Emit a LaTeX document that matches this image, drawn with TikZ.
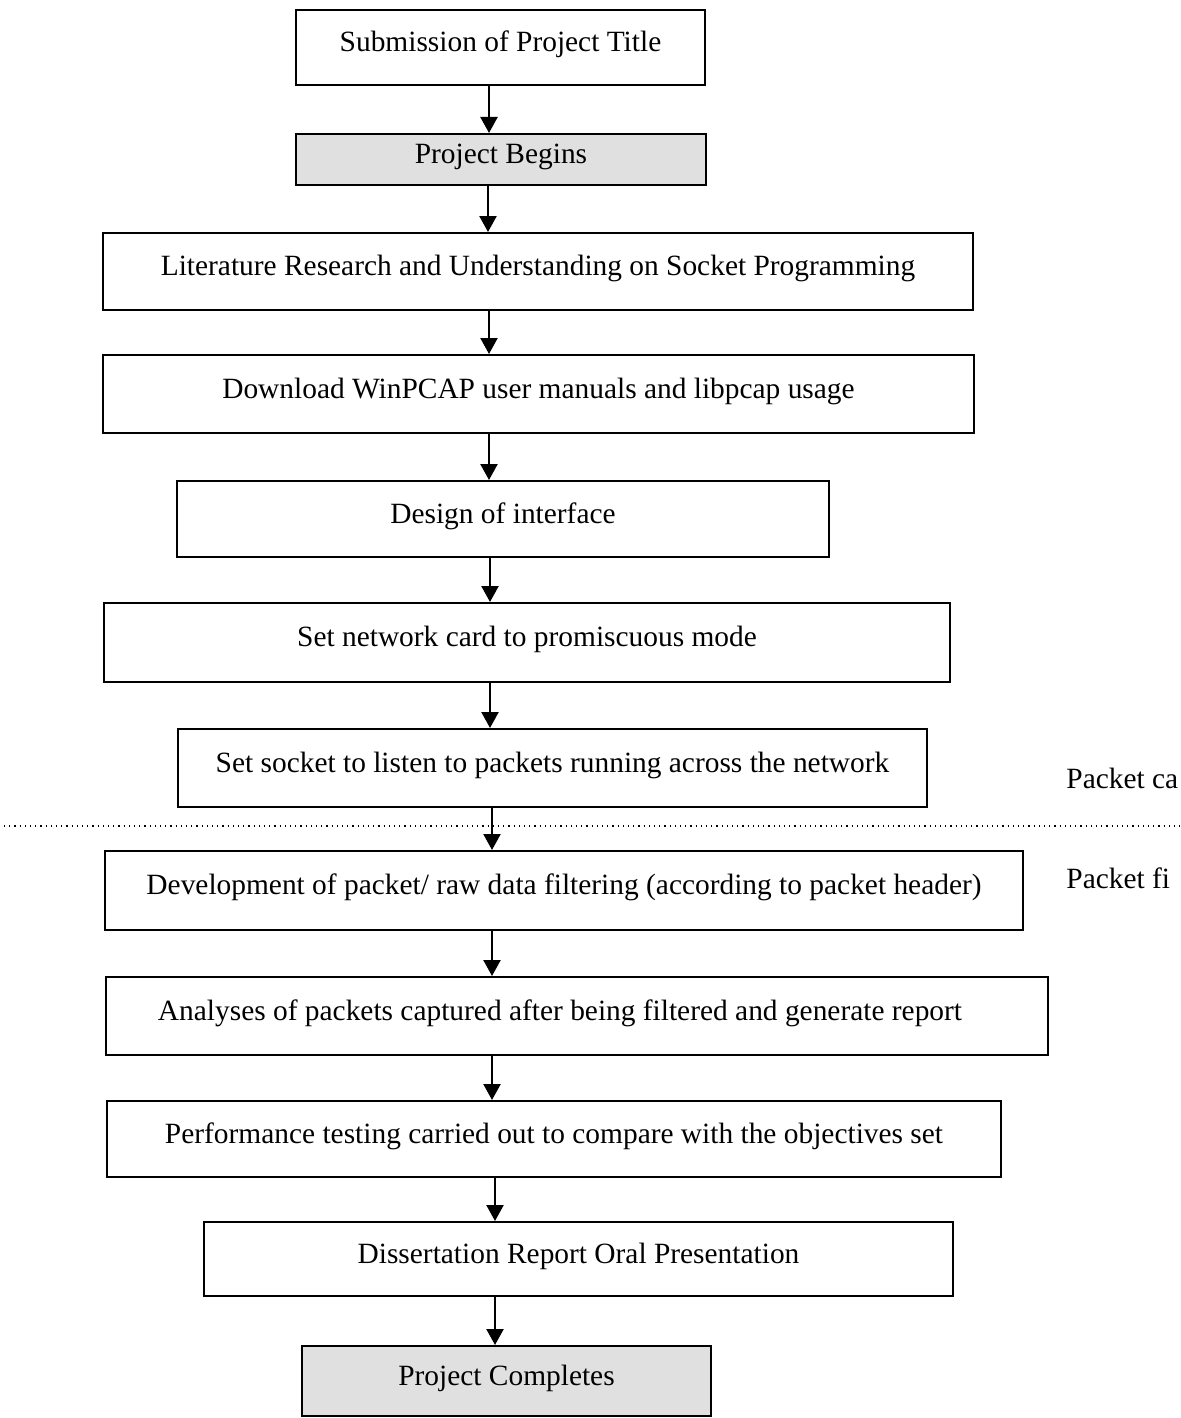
\documentclass[tikz,border=0pt]{standalone}
\usepackage{fontspec}
\setmainfont{Liberation Serif}
\usepackage{tikz}
\usetikzlibrary{arrows.meta,positioning}
\tikzset{
  pbox/.style={draw,line width=1pt,align=center,inner sep=2pt,
    font=\fontsize{14.7pt}{17pt}\selectfont,text height=10pt,text depth=5.8pt},
  pshade/.style={pbox,fill=black!12},
  pflow/.style={-{Triangle[length=8pt,width=8.5pt]},line width=1.15pt},
  psep/.style={dotted,line width=0.6pt},
  plabel/.style={anchor=base west,inner sep=0pt,font=\fontsize{14.7pt}{17pt}\selectfont},
}
\begin{document}
\begin{tikzpicture}[x=0.5pt,y=-0.5pt]
\useasboundingbox (0,0) rectangle (1180,1418);
\node[pbox,minimum width=204.5pt,minimum height=37.5pt] (sub) at (500.5,47.5) {Submission of Project Title};
\node[pshade,minimum width=205pt,minimum height=25.5pt] (beg) at (501,159.5) {Project Begins};
\node[pbox,minimum width=435pt,minimum height=38.5pt] (lit) at (538,271.5) {Literature Research and Understanding on Socket Programming};
\node[pbox,minimum width=435.5pt,minimum height=39pt] (dl) at (538.5,394) {Download WinPCAP user manuals and libpcap usage};
\node[pbox,minimum width=326pt,minimum height=38pt] (ifc) at (503,519) {Design of interface};
\node[pbox,minimum width=423pt,minimum height=39.5pt] (card) at (527,642.5) {Set network card to promiscuous mode};
\node[pbox,minimum width=374.5pt,minimum height=39pt] (sock) at (552.5,768) {Set socket to listen to packets running across the network};
\node[pbox,minimum width=459pt,minimum height=39.5pt] (filt) at (564,890.5) {Development of packet/ raw data filtering (according to packet header)};
\node[pbox,minimum width=471pt,minimum height=39pt] (ana) at (577,1016) {Analyses of packets captured after being filtered and generate report\hspace*{17pt}};
\node[pbox,minimum width=447pt,minimum height=38pt] (perf) at (554,1139) {Performance testing carried out to compare with the objectives set};
\node[pbox,minimum width=374.5pt,minimum height=37pt] (diss) at (578.5,1259) {Dissertation Report Oral Presentation};
\node[pshade,minimum width=204.5pt,minimum height=35pt] (done) at (506.5,1381) {Project Completes};
% flow between the stages
\draw[pflow] (sub.south -| 489,0) -- (beg.north -| 489,0);
\draw[pflow] (beg.south -| 488,0) -- (lit.north -| 488,0);
\draw[pflow] (lit.south -| 489,0) -- (dl.north -| 489,0);
\draw[pflow] (dl.south -| 489,0) -- (ifc.north -| 489,0);
\draw[pflow] (ifc.south -| 490,0) -- (card.north -| 490,0);
\draw[pflow] (card.south -| 490,0) -- (sock.north -| 490,0);
\draw[pflow] (sock.south -| 492,0) -- (filt.north -| 492,0);
\draw[pflow] (filt.south -| 492,0) -- (ana.north -| 492,0);
\draw[pflow] (ana.south -| 492,0) -- (perf.north -| 492,0);
\draw[pflow] (perf.south -| 495,0) -- (diss.north -| 495,0);
\draw[pflow] (diss.south -| 495,0) -- (done.north -| 495,0);
% phase separator and side labels
\coordinate (sepL) at (4,826);
\coordinate (sepR) at (1180,826);
\draw[psep] (sepL) -- (sepR);
\node[plabel] (cap) at (1066,788) {Packet ca};
\node[plabel] (flt) at (1066,888) {Packet fi};
\end{tikzpicture}
\end{document}
